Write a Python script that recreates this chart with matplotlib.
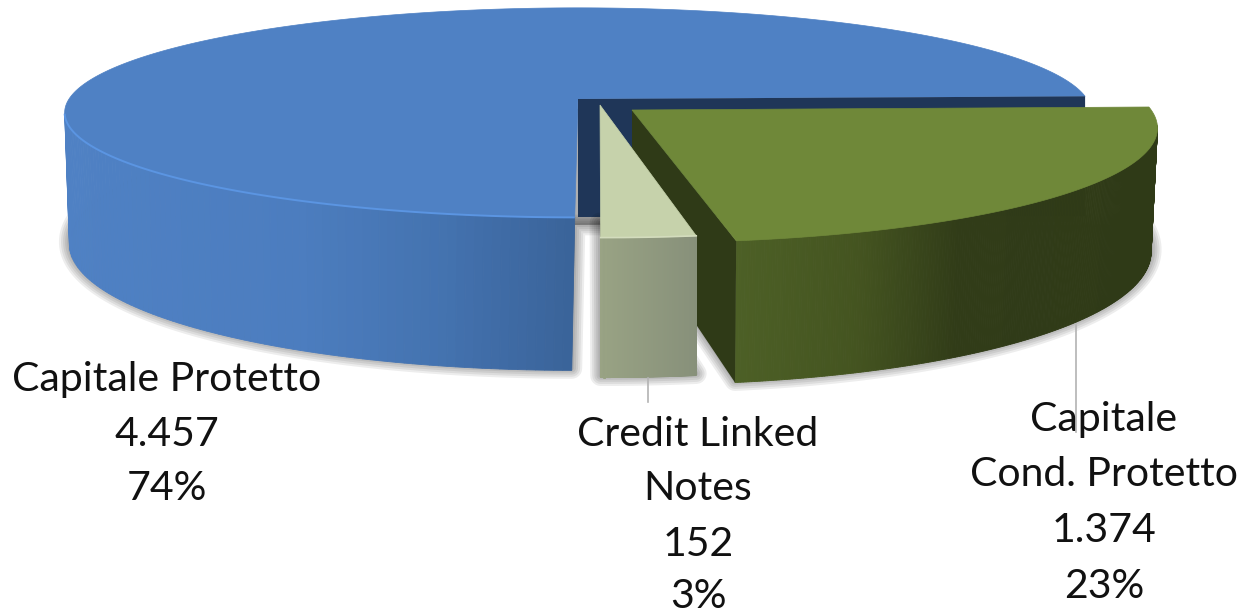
import numpy as np
import matplotlib.pyplot as plt

# dati
labels = ["Capitale Protetto", "Credit Linked\nNotes", "Capitale\nCond. Protetto"]
values = [4457, 152, 1374]
value_text = ["4.457", "152", "1.374"]
perc_text = ["74%", "3%", "23%"]

start_angle = 1.5
k = 0.13
rx, ry = 509, 103

# stile fette: apice, scala x/y, altezza parete, restringimento base
slices = [
    dict(apex=(578, 99), sx=1.0, sy=1.0, skew=0, d0=128, d1=25, taper=0.985, lean=-3,
         top="#4f81c4", xs=[60, 300, 440, 575], cols=["#4f81c4", "#4c7dbf", "#4473b0", "#3a6399"]),
    dict(apex=(600, 105), sx=1.03, sy=1.12, skew=4, d0=120, d1=20, taper=1.0, lean=0,
         top="#c6d2ab", xs=[600, 698], cols=["#99a384", "#87907a"]),
    dict(apex=(632, 110), sx=1.02, sy=1.12, skew=13, d0=120, d1=22, taper=0.988, lean=0,
         top="#6f8839", xs=[736, 860, 960, 1150], cols=["#4d6026", "#445420", "#313c18", "#2f3a17"]),
]


def top_pts(th, s):
    th = np.radians(th)
    w = 1 + k * np.sin(th)
    x = s["apex"][0] + s["sx"] * rx * np.cos(th) / w - s["skew"] * np.sin(th)
    y = s["apex"][1] - s["sy"] * ry * np.sin(th) / w
    return x, y


def base_pts(th, s):
    x, y = top_pts(th, s)
    cx = s["apex"][0]
    yy = np.sin(np.radians(th))
    return cx + (x - cx) * s["taper"] + s["lean"], y + s["d0"] - s["d1"] * yy


fig = plt.figure(figsize=(12.46, 6.16), dpi=100)
ax = fig.add_axes([0, 0, 1, 1])
ax.set_xlim(0, 1246)
ax.set_ylim(616, 0)
ax.axis("off")

fractions = np.array(values) / sum(values)
edges = start_angle + np.concatenate([[0], np.cumsum(fractions) * 360])


def shadow(th, s):
    bx, by = base_pts(th, s)
    ax_, ay_ = s["apex"][0] + s["lean"], s["apex"][1] + s["d0"]
    px = np.concatenate([[ax_], bx])
    py = np.concatenate([[ay_], by])
    for lw in [15, 12, 9, 6, 3]:
        ax.fill(px, py - 2, facecolor=(0, 0, 0, 0.07), edgecolor=(0, 0, 0, 0.07), lw=lw, joinstyle="round")


def wall(th, s):
    vis = th[np.sin(np.radians(th)) < -k]
    x1, y1 = top_pts(vis, s)
    x2, y2 = base_pts(vis, s)
    for i in range(len(vis) - 1):
        col = [np.interp((x1[i] + x1[i + 1]) / 2, s["xs"], [int(c[j:j + 2], 16) / 255 for c in s["cols"]])
               for j in (1, 3, 5)]
        ax.fill([x1[i], x1[i + 1], x2[i + 1], x2[i]], [y1[i], y1[i + 1], y2[i + 1], y2[i]],
                facecolor=col, edgecolor=col, lw=0.6)


def top(th, s):
    x, y = top_pts(th, s)
    ax.fill(np.concatenate([[s["apex"][0]], x]), np.concatenate([[s["apex"][1]], y]),
            facecolor=s["top"], edgecolor=s["top"], lw=0.5)


theta = [np.linspace(edges[i], edges[i + 1], 300) for i in range(3)]

# azzurro
s = slices[0]
shadow(theta[0], s)
wall(theta[0], s)
top(theta[0], s)
front = theta[0][np.sin(np.radians(theta[0])) < -k]
ax.plot(*top_pts(front, s), color="#5b95e2", lw=1.4, solid_capstyle="butt")
# parete interna blu scuro
rim_x, rim_y = top_pts(np.array([edges[0]]), s)
ax.fill([s["apex"][0], rim_x[0], rim_x[0], s["apex"][0]],
        [s["apex"][1], rim_y[0], rim_y[0] + 120, s["apex"][1] + 118], color="#1f3658", lw=0)

# verde
s = slices[2]
shadow(theta[2], s)
wall(theta[2], s)
cx, cy = top_pts(np.array([edges[2]]), s)
bx, by = base_pts(np.array([edges[2]]), s)
ax.fill([s["apex"][0], cx[0], bx[0], s["apex"][0]],
        [s["apex"][1], cy[0], by[0], s["apex"][1] + 119], color="#2f3a17", lw=0)
top(theta[2], s)

# credit linked
s = slices[1]
shadow(theta[1], s)
wall(theta[1], s)
top(theta[1], s)
ax.plot(*top_pts(theta[1], s), color="#d3dcbd", lw=1.2)

# linee guida
ax.plot([648, 648], [378, 402], color="#b3b3b3", lw=1.2)
ax.plot([1076, 1076], [325, 432], color="#b3b3b3", lw=1.2)

# etichette
font = "Lato"
size = 29.5
label_x = [167, 698, 1104]
label_y = [[380, 434, 489], [434, 489, 544, 596], [419, 475, 531, 587]]
for i in range(3):
    lines = labels[i].split("\n") + [value_text[i], perc_text[i]]
    for line, y in zip(lines, label_y[i]):
        ax.text(label_x[i], y, line, ha="center", va="center", fontsize=size, family=font, color="#111111")

fig.savefig("out.png", dpi=100)
